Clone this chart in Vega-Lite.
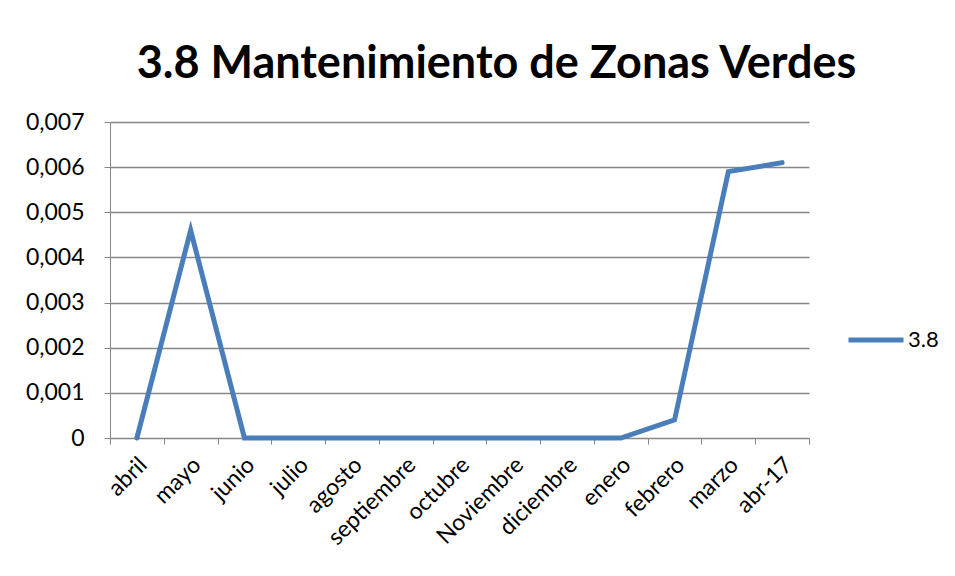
{
  "$schema": "https://vega.github.io/schema/vega-lite/v6.json",
  "width": 699,
  "height": 316,
  "autosize": {"type": "none"},
  "padding": {"left": 110, "top": 122, "right": 146, "bottom": 138},
  "background": "white",
  "title": {
    "text": "3.8 Mantenimiento de Zonas Verdes",
    "font": "Lato",
    "fontSize": 45,
    "fontWeight": "bold",
    "color": "#000000",
    "anchor": "middle",
    "dx": 37,
    "offset": -12,
    "baseline": "alphabetic"
  },
  "data": {
    "values": [
      {"mes": "abril", "valor": 0, "serie": "3.8"},
      {"mes": "mayo", "valor": 0.0046, "serie": "3.8"},
      {"mes": "junio", "valor": 0, "serie": "3.8"},
      {"mes": "julio", "valor": 0, "serie": "3.8"},
      {"mes": "agosto", "valor": 0, "serie": "3.8"},
      {"mes": "septiembre", "valor": 0, "serie": "3.8"},
      {"mes": "octubre", "valor": 0, "serie": "3.8"},
      {"mes": "Noviembre", "valor": 0, "serie": "3.8"},
      {"mes": "diciembre", "valor": 0, "serie": "3.8"},
      {"mes": "enero", "valor": 0, "serie": "3.8"},
      {"mes": "febrero", "valor": 0.0004, "serie": "3.8"},
      {"mes": "marzo", "valor": 0.0059, "serie": "3.8"},
      {"mes": "abr-17", "valor": 0.0061, "serie": "3.8"}
    ]
  },
  "mark": {"type": "line", "strokeWidth": 5, "strokeJoin": "miter", "strokeCap": "round"},
  "encoding": {
    "x": {
      "field": "mes",
      "type": "nominal",
      "sort": null,
      "scale": {"paddingInner": 0, "paddingOuter": 0},
      "axis": {
        "title": null,
        "labelAngle": -45,
        "labelAlign": "right",
        "labelBaseline": "middle",
        "labelFont": "Lato",
        "labelFontSize": 23,
        "labelColor": "#000000",
        "labelPadding": 17,
        "labelOffset": 6,
        "tickBand": "extent",
        "tickSize": 6,
        "tickColor": "#868686",
        "domainColor": "#868686",
        "grid": false
      }
    },
    "y": {
      "field": "valor",
      "type": "quantitative",
      "scale": {"domain": [0, 0.007], "nice": false},
      "axis": {
        "title": null,
        "values": [0, 0.001, 0.002, 0.003, 0.004, 0.005, 0.006, 0.007],
        "labelExpr": "datum.value == 0 ? '0' : replace(format(datum.value, '.3f'), '.', ',')",
        "labelFont": "Lato",
        "labelFontSize": 23,
        "labelColor": "#000000",
        "labelPadding": 20,
        "tickSize": 6,
        "tickColor": "#868686",
        "domainColor": "#868686",
        "gridColor": "#868686",
        "gridWidth": 1.3
      }
    },
    "color": {
      "field": "serie",
      "type": "nominal",
      "scale": {"range": ["#4a7ebb"]},
      "legend": {
        "title": null,
        "orient": "none",
        "legendX": 736,
        "legendY": 188,
        "symbolType": "stroke",
        "symbolSize": 3025,
        "symbolStrokeWidth": 5,
        "labelFont": "Lato",
        "labelFontSize": 22,
        "labelColor": "#000000",
        "labelOffset": 2
      }
    }
  },
  "config": {
    "view": {"stroke": null}
  }
}
